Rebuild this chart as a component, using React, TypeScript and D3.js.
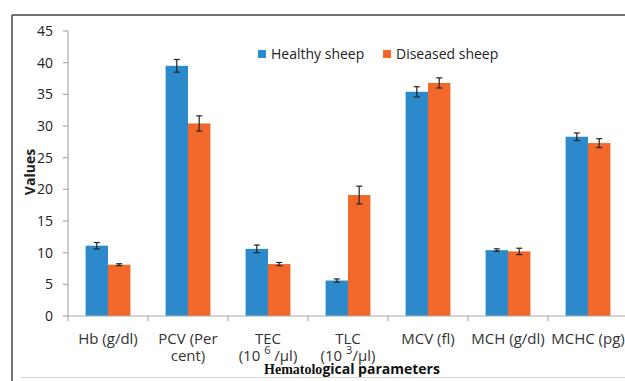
import React from "react";
import * as d3 from "d3";

const categories = ["Hb", "PCV", "TEC", "TLC", "MCV", "MCH", "MCHC"];
const categoryLabels: string[][] = [
  ["Hb (g/dl)"],
  ["PCV (Per", "cent)"],
  ["TEC", "(10 ^6 /µl)"],
  ["TLC", "(10 ^3/µl)"],
  ["MCV (fl)"],
  ["MCH (g/dl)"],
  ["MCHC (pg)"],
];
const seriesNames = ["Healthy sheep", "Diseased sheep"];
const healthy = [11.1, 39.5, 10.6, 5.6, 35.4, 10.4, 28.3];
const healthyErr = [0.5, 1.0, 0.6, 0.25, 0.8, 0.2, 0.6];
const diseased = [8.1, 30.4, 8.2, 19.1, 36.8, 10.2, 27.3];
const diseasedErr = [0.15, 1.2, 0.25, 1.4, 0.8, 0.5, 0.7];
const yTicks = [0, 5, 10, 15, 20, 25, 30, 35, 40, 45];
const colors = ["#2c8acb", "#f2682a"];

const W = 625;
const H = 381;
const FONT = "'Open Sans', 'Liberation Sans', sans-serif";

function renderLabelLine(line: string) {
  const parts = line.split(/\^(\d)/);
  const out: React.ReactNode[] = [];
  parts.forEach((p, i) => {
    if (i % 2 === 1) {
      out.push(
        <tspan key={i} dy={-7} fontSize={11}>
          {p}
        </tspan>
      );
    } else if (p.length) {
      out.push(
        <tspan key={i} dy={i > 0 ? 7 : 0}>
          {p}
        </tspan>
      );
    }
  });
  return out;
}

export default function App() {
  const x = d3.scaleBand<string>().domain(categories).range([68, 628]).padding(0);
  const inner = d3
    .scaleBand<number>()
    .domain([0, 1])
    .range([x.bandwidth() * 0.22, x.bandwidth() * 0.78]);
  const y = d3.scaleLinear().domain([0, 45]).range([316, 31]);
  const series = [
    { vals: healthy, errs: healthyErr },
    { vals: diseased, errs: diseasedErr },
  ];

  return (
    <svg
      width={W}
      height={H}
      style={{ position: "absolute", left: 0, top: 0, background: "#fff" }}
      fontFamily={FONT}
    >
      {/* frame */}
      <line x1={12} y1={15} x2={W} y2={15} stroke="#444" strokeWidth={1.5} />
      <line x1={12} y1={15} x2={12} y2={H} stroke="#444" strokeWidth={1.5} />
      <line x1={21} y1={377.5} x2={W} y2={377.5} stroke="#d8d8d8" strokeWidth={1} />

      {/* y axis */}
      <line x1={68} y1={y(45)} x2={68} y2={y(0)} stroke="#aaa" strokeWidth={1.2} />
      {yTicks.map((t) => (
        <g key={t}>
          <line x1={63} x2={68} y1={y(t)} y2={y(t)} stroke="#aaa" strokeWidth={1.2} />
          <text x={53} y={y(t)} dy="0.35em" textAnchor="end" fontSize={14} fill="#222">
            {t}
          </text>
        </g>
      ))}

      {/* bars */}
      {series.map((s, si) =>
        categories.map((c, ci) => {
          const bx = (x(c) as number) + (inner(si) as number);
          const bw = inner.bandwidth();
          const v = s.vals[ci];
          return (
            <rect
              key={`${si}-${ci}`}
              x={bx}
              y={y(v)}
              width={bw}
              height={y(0) - y(v)}
              fill={colors[si]}
            />
          );
        })
      )}

      {/* x axis */}
      <line x1={68} y1={y(0)} x2={628} y2={y(0)} stroke="#aaa" strokeWidth={1.2} />
      {categories.map((c) => (
        <line
          key={c}
          x1={x(c) as number}
          x2={x(c) as number}
          y1={y(0)}
          y2={y(0) + 5}
          stroke="#aaa"
          strokeWidth={1.2}
        />
      ))}

      {/* error bars */}
      {series.map((s, si) =>
        categories.map((c, ci) => {
          const cx = (x(c) as number) + (inner(si) as number) + inner.bandwidth() / 2;
          const v = s.vals[ci];
          const e = s.errs[ci];
          return (
            <g key={`e${si}-${ci}`} stroke="#222" strokeWidth={1.2}>
              <line x1={cx} x2={cx} y1={y(v + e)} y2={y(v - e)} />
              <line x1={cx - 3} x2={cx + 3} y1={y(v + e)} y2={y(v + e)} />
              <line x1={cx - 3} x2={cx + 3} y1={y(v - e)} y2={y(v - e)} />
            </g>
          );
        })
      )}

      {/* category labels */}
      {categories.map((c, ci) => {
        const cx = (x(c) as number) + x.bandwidth() / 2;
        return categoryLabels[ci].map((line, li) => (
          <text
            key={`${c}-${li}`}
            x={cx}
            y={344 + li * 17}
            textAnchor="middle"
            fontSize={15}
            fill="#333"
          >
            {renderLabelLine(line)}
          </text>
        ));
      })}

      {/* axis titles */}
      <text x={352} y={374} textAnchor="middle" fontSize={14} fontWeight="bold" fill="#111">
        <tspan fontFamily="'Liberation Serif', 'DejaVu Serif', serif">Hematolo</tspan>
        <tspan>gical parameters</tspan>
      </text>
      <text
        transform="translate(35,172) rotate(-90)"
        textAnchor="middle"
        fontSize={14}
        fontWeight="bold"
        fill="#222"
      >
        Values
      </text>

      {/* legend */}
      {seriesNames.map((n, i) => {
        const lx = i === 0 ? 258 : 383;
        return (
          <g key={n}>
            <rect x={lx} y={50} width={8} height={8} fill={colors[i]} />
            <text x={lx + 13} y={54} dy="0.35em" fontSize={14} fill="#222">
              {n}
            </text>
          </g>
        );
      })}
    </svg>
  );
}
